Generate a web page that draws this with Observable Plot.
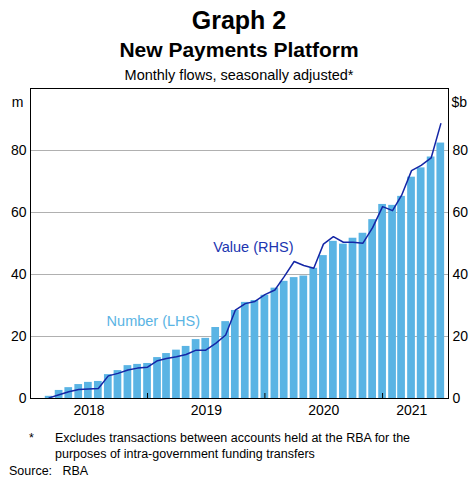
<!DOCTYPE html>
<html>
<head>
<meta charset="utf-8">
<script src="https://cdn.jsdelivr.net/npm/d3@7"></script>
<script src="https://cdn.jsdelivr.net/npm/@observablehq/plot@0.6"></script>
<style>
  html, body { margin: 0; padding: 0; background: #fff; }
  #wrap { position: relative; width: 469px; height: 477px; font-family: "Liberation Sans", Arial, sans-serif; color: #000; overflow: hidden; }
  .t { position: absolute; left: 0; width: 478px; text-align: center; line-height: 1; white-space: nowrap; }
  .f { position: absolute; line-height: 1; white-space: nowrap; font-size: 12.5px; }
  #chart { position: absolute; left: 0; top: 0; }
</style>
</head>
<body>
<div id="wrap">
  <div id="chart"></div>
  <div class="t" style="top:8px;font-size:25px;font-weight:bold;">Graph 2</div>
  <div class="t" style="top:39px;font-size:21px;font-weight:bold;">New Payments Platform</div>
  <div class="t" style="top:68px;font-size:14.5px;">Monthly flows, seasonally adjusted*</div>
  <div class="f" style="left:29px;top:432px;">*</div>
  <div class="f" style="left:55px;top:432px;">Excludes transactions between accounts held at the RBA for the</div>
  <div class="f" style="left:55px;top:448px;">purposes of intra-government funding transfers</div>
  <div class="f" style="left:9px;top:465px;">Source:&nbsp;&nbsp;&nbsp;RBA</div>
</div>
<script>
// Months (end-of-month observations)
const months = [
  "2018-02","2018-03","2018-04","2018-05","2018-06","2018-07","2018-08","2018-09","2018-10","2018-11","2018-12",
  "2019-01","2019-02","2019-03","2019-04","2019-05","2019-06","2019-07","2019-08","2019-09","2019-10","2019-11","2019-12",
  "2020-01","2020-02","2020-03","2020-04","2020-05","2020-06","2020-07","2020-08","2020-09","2020-10","2020-11","2020-12",
  "2021-01","2021-02","2021-03","2021-04","2021-05","2021-06"
];
// Number of payments, millions (LHS)
const numberM = [
  0.7, 2.6, 3.5, 4.5, 5.2, 5.5, 7.7, 9.0, 10.6, 11.0, 11.3,
  13.2, 14.5, 15.6, 16.8, 19.0, 19.4, 22.9, 24.8, 28.4, 31.0, 31.6, 33.3,
  35.6, 37.8, 39.0, 39.5, 42.0, 46.1, 50.7, 49.8, 51.7, 53.3, 57.7, 62.6,
  62.3, 65.2, 71.4, 74.4, 77.9, 82.4
];
// Value of payments, $ billion (RHS)
const valueB = [
  0.2, 1.2, 2.2, 2.9, 3.1, 3.2, 7.3, 8.1, 9.2, 9.8, 10.1,
  12.2, 12.9, 13.5, 14.2, 15.6, 15.6, 17.8, 20.5, 28.5, 30.6, 31.3, 33.5,
  35.0, 39.3, 44.2, 42.9, 42.0, 49.8, 52.2, 50.4, 50.4, 50.1, 55.1, 61.9,
  60.6, 65.5, 73.5, 75.2, 77.6, 88.6
];
const yTicks = [0, 20, 40, 60, 80];
const gridVals = [20, 40, 60, 80];
const yearEnds = ["2018-12-31", "2019-12-31", "2020-12-31"];
const yearLabels = ["2018", "2019", "2020", "2021"];
const yearLabelDates = ["2018-07-02", "2019-07-02", "2020-07-01", "2021-04-01"];
const xDomain = ["2018-01-01", "2021-07-24"];

const parse = d3.utcParse("%Y-%m-%d");
const parseM = d3.utcParse("%Y-%m");
const endOfMonth = s => d3.utcDay.offset(d3.utcMonth.offset(parseM(s), 1), -1);

const rows = months.map((m, i) => ({ date: endOfMonth(m), number: numberM[i], value: valueB[i] }));
const labelRows = yearLabels.map((y, i) => ({ date: parse(yearLabelDates[i]), label: y }));

const barColor = "#5ab4e4";
const lineColor = "#1426a6";

const chart = Plot.plot({
  width: 469,
  height: 426,
  marginLeft: 30,
  marginRight: 21,
  marginTop: 88,
  marginBottom: 28,
  style: { fontFamily: "'Liberation Sans', Arial, sans-serif", fontSize: "14px", color: "#000", background: "transparent" },
  x: { type: "utc", domain: xDomain.map(parse), axis: null },
  y: { domain: [0, 100], axis: null },
  marks: [
    Plot.gridY(gridVals, { stroke: "#b0b0b0", strokeOpacity: 1, strokeWidth: 1 }),
    Plot.rectY(rows, {
      x1: d => d3.utcDay.offset(d.date, -12),
      x2: d => d3.utcDay.offset(d.date, 12),
      y: "number",
      fill: barColor
    }),
    Plot.lineY(rows, { x: "date", y: "value", stroke: lineColor, strokeWidth: 1.5 }),
    Plot.frame({ stroke: "#000", strokeWidth: 1 }),
    Plot.ruleX(yearEnds.map(parse), { stroke: "#000", insetTop: 305 }),
    Plot.axisY(yTicks, { anchor: "left", tickSize: 0, tickPadding: 4, label: null }),
    Plot.axisY(yTicks, { anchor: "right", tickSize: 0, tickPadding: 4, label: null }),
    Plot.text(labelRows, { x: "date", text: "label", frameAnchor: "bottom", dy: 16, fontSize: 14 }),
    Plot.text(["m"], { frameAnchor: "top-left", dx: -7, dy: 8.5, textAnchor: "end", fontSize: 14 }),
    Plot.text(["$b"], { frameAnchor: "top-right", dx: 3, dy: 8.5, textAnchor: "start", fontSize: 14 }),
    Plot.text(["Number (LHS)"], { x: () => parse("2019-01-18"), y: () => 24.8, fill: barColor, fontSize: 14.5 }),
    Plot.text(["Value (RHS)"], { x: () => parse("2019-11-25"), y: () => 48.7, fill: "#2035b0", fontSize: 14.5 })
  ]
});
document.getElementById("chart").appendChild(chart);
</script>
</body>
</html>
